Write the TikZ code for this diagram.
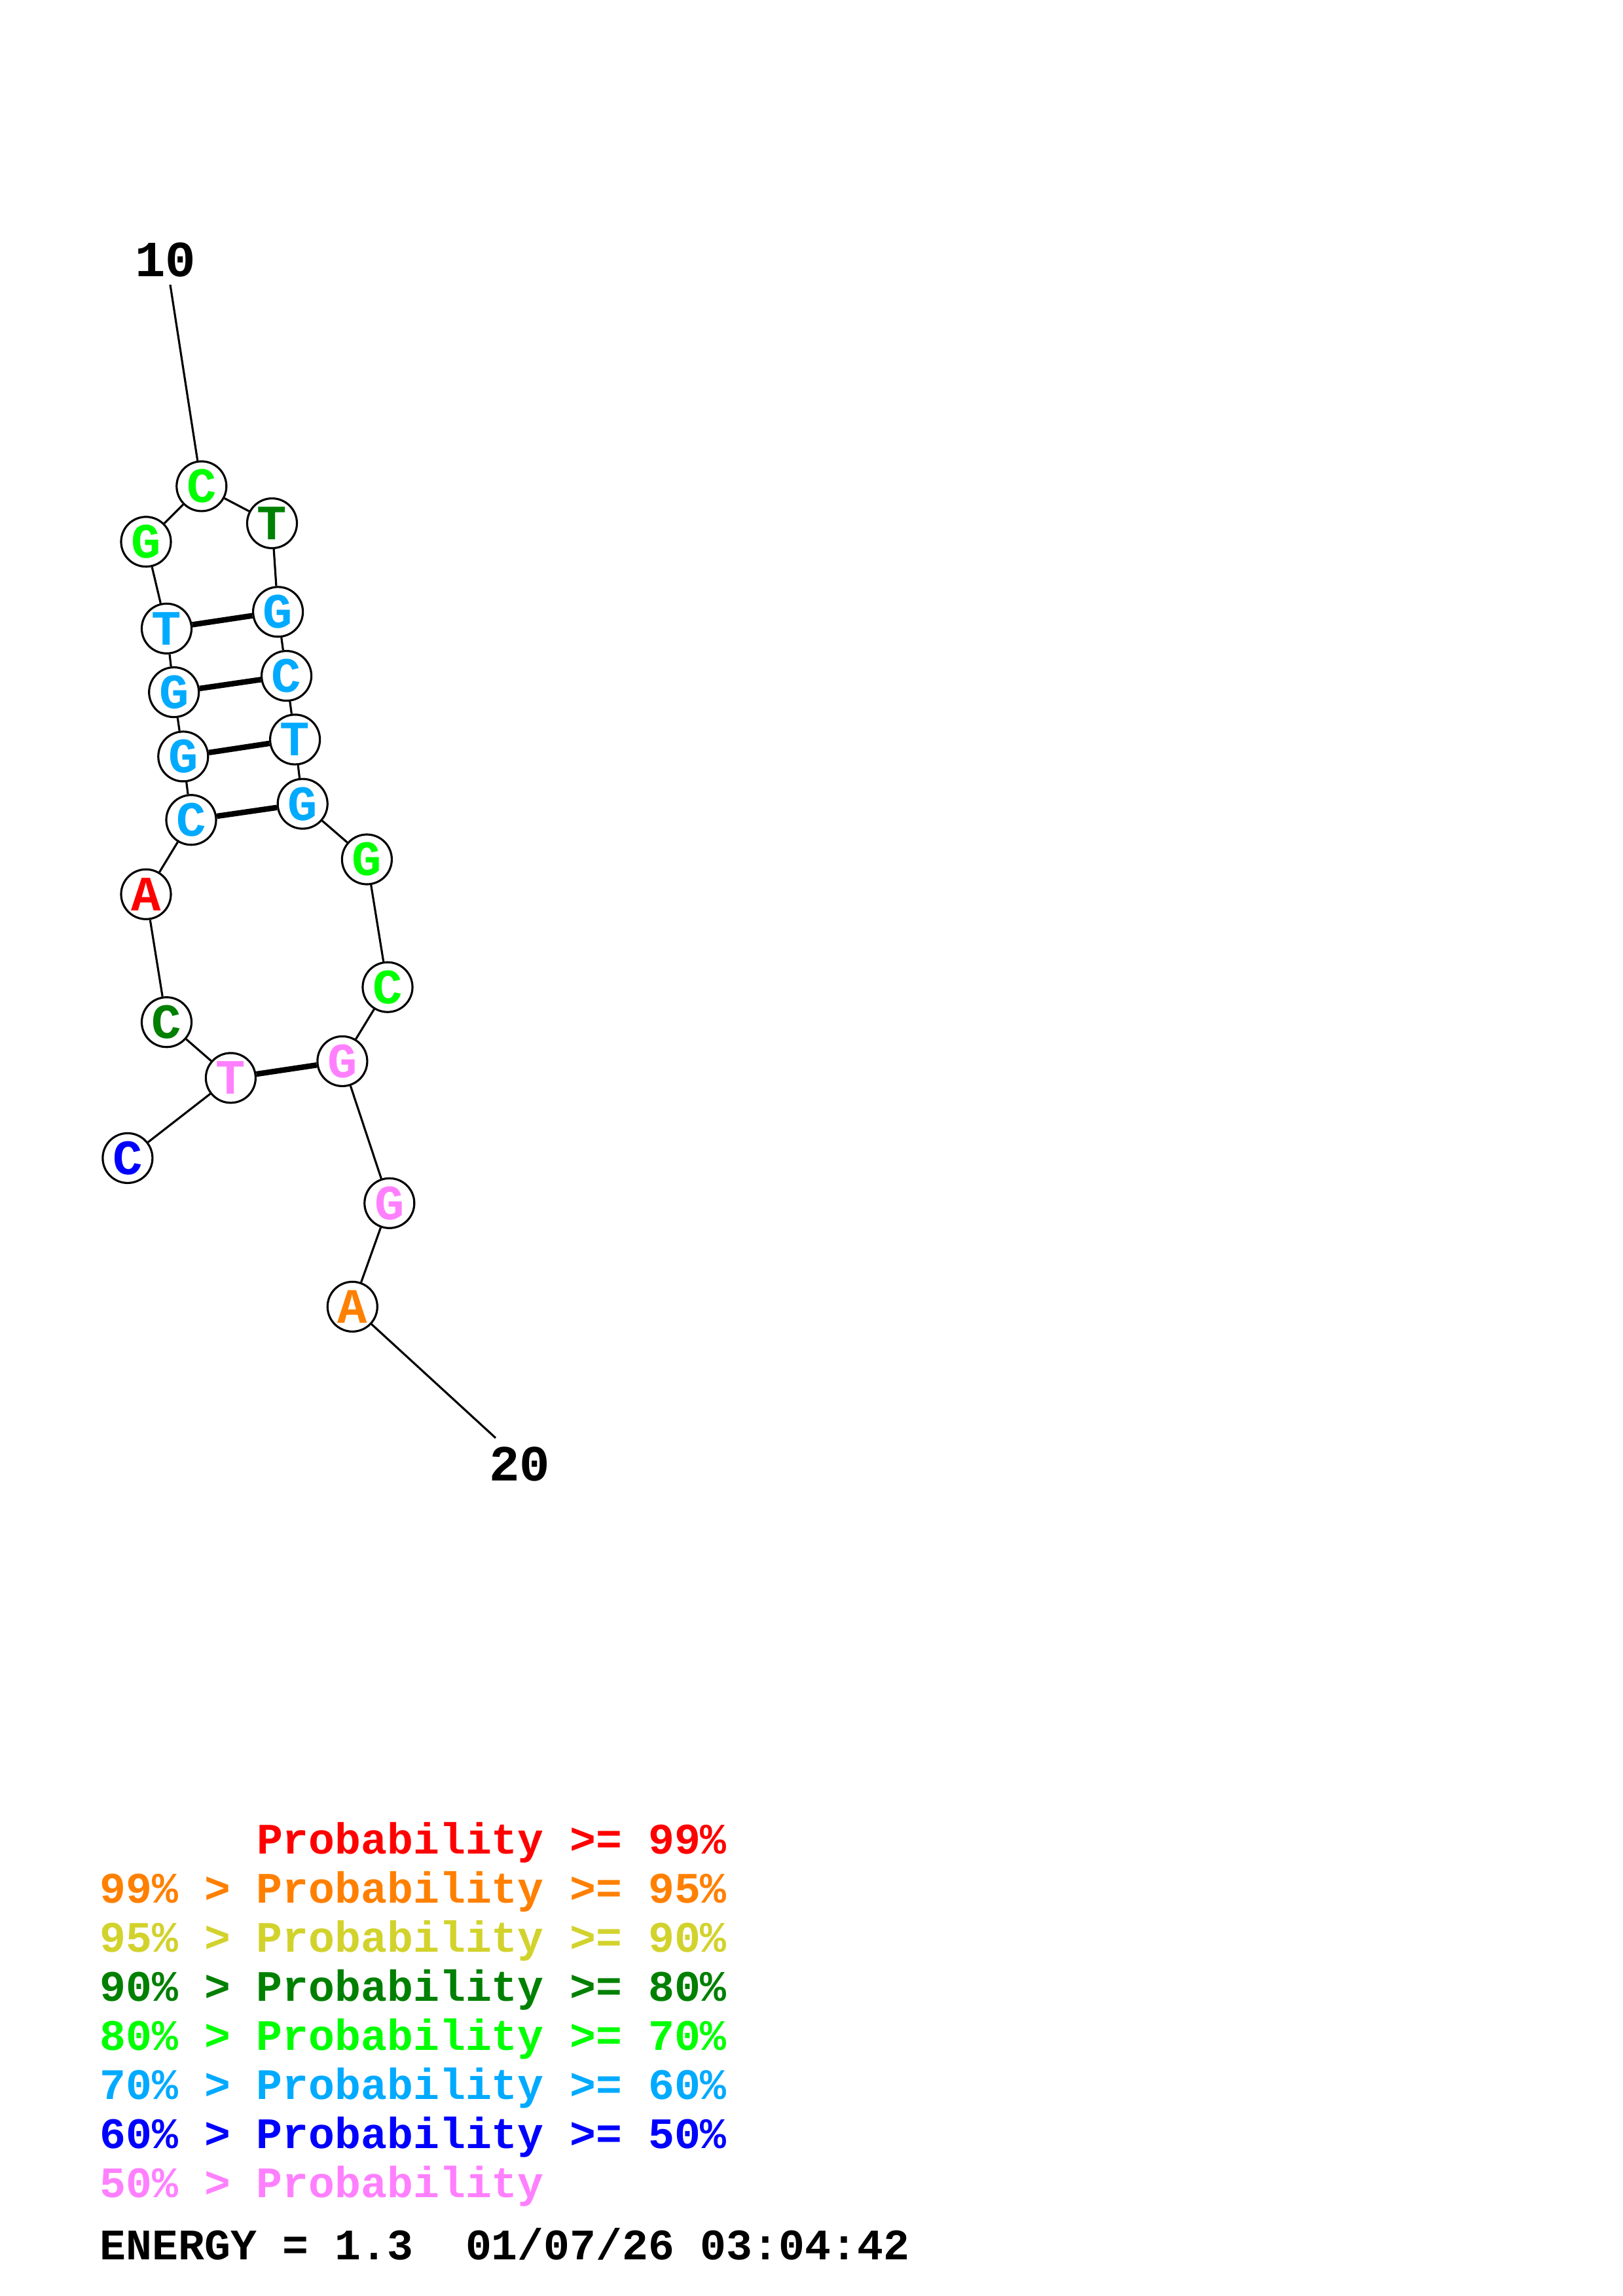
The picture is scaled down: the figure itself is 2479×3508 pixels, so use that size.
\documentclass[tikz,border=0pt]{standalone}
\usepackage{fontspec}
\newfontfamily\cour{Liberation Mono}[BoldFont={Liberation Mono Bold}]
\definecolor{cred}{RGB}{255,0,0}
\definecolor{corange}{RGB}{255,128,0}
\definecolor{cyellow}{RGB}{210,210,45}
\definecolor{cdkgreen}{RGB}{0,128,0}
\definecolor{cgreen}{RGB}{0,255,0}
\definecolor{clblue}{RGB}{0,170,255}
\definecolor{cblue}{RGB}{0,0,255}
\definecolor{cpink}{RGB}{255,128,255}
\begin{document}
\begin{tikzpicture}[x=0.01cm,y=-0.01cm,
  base/.style={circle,draw=black,line width=0.9pt,fill=white,minimum size=0.76cm,inner sep=0pt,
    font=\cour\bfseries\fontsize{21.5}{24}\selectfont},
  bb/.style={line width=0.9pt},
  pair/.style={line width=2.4pt},
  endlab/.style={font=\cour\bfseries\fontsize{22}{26}\selectfont,inner sep=0pt},
  leg/.style={font=\cour\bfseries\fontsize{18.9}{22}\selectfont,inner sep=0pt,anchor=base west}]
\useasboundingbox[fill=white] (0,0) rectangle (2479,3508);
% nucleotides
\node[base,text=cblue]    (n1)  at (194.9,1769.4) {C};
\node[base,text=cpink]    (n2)  at (352.4,1646.9) {T};
\node[base,text=cdkgreen] (n3)  at (254.5,1561.7) {C};
\node[base,text=cred]     (n4)  at (223,1366.3) {A};
\node[base,text=clblue]   (n5)  at (292,1252.7) {C};
\node[base,text=clblue]   (n6)  at (279.8,1155.8) {G};
\node[base,text=clblue]   (n7)  at (265.7,1057.6) {G};
\node[base,text=clblue]   (n8)  at (254.5,960.3) {T};
\node[base,text=cgreen]   (n9)  at (223,827.7) {G};
\node[base,text=cgreen]   (n10) at (307.8,742.9) {C};
\node[base,text=cdkgreen] (n11) at (415.5,799.5) {T};
\node[base,text=clblue]   (n12) at (424.6,934.8) {G};
\node[base,text=clblue]   (n13) at (437.6,1032.6) {C};
\node[base,text=clblue]   (n14) at (450.6,1129.9) {T};
\node[base,text=clblue]   (n15) at (462.2,1228.1) {G};
\node[base,text=cgreen]   (n16) at (560.4,1313) {G};
\node[base,text=cgreen]   (n17) at (592,1508.2) {C};
\node[base,text=cpink]    (n18) at (522.9,1621.4) {G};
\node[base,text=cpink]    (n19) at (594.8,1838.3) {G};
\node[base,text=corange]  (n20) at (538.3,1996.4) {A};
% end labels
\node[endlab,anchor=base] (l10) at (253,422) {10};
\node[endlab,anchor=base] (l20) at (794,2262) {20};
\coordinate (c10) at (260,435);
\coordinate (c20) at (757,2197);
% backbone
\draw[bb] (n1) -- (n2);
\draw[bb] (n2) -- (n3);
\draw[bb] (n3) -- (n4);
\draw[bb] (n4) -- (n5);
\draw[bb] (n5) -- (n6);
\draw[bb] (n6) -- (n7);
\draw[bb] (n7) -- (n8);
\draw[bb] (n8) -- (n9);
\draw[bb] (n9) -- (n10);
\draw[bb] (n10) -- (n11);
\draw[bb] (n11) -- (n12);
\draw[bb] (n12) -- (n13);
\draw[bb] (n13) -- (n14);
\draw[bb] (n14) -- (n15);
\draw[bb] (n15) -- (n16);
\draw[bb] (n16) -- (n17);
\draw[bb] (n17) -- (n18);
\draw[bb] (n18) -- (n19);
\draw[bb] (n19) -- (n20);
\draw[bb] (c10) -- (n10);
\draw[bb] (n20) -- (c20);
% pairs
\draw[pair] (n2) -- (n18);
\draw[pair] (n5) -- (n15);
\draw[pair] (n6) -- (n14);
\draw[pair] (n7) -- (n13);
\draw[pair] (n8) -- (n12);
% legend
\node[leg,text=cred]     (g1) at (152,2832) {\phantom{99\% > }Probability >= 99\%};
\node[leg,text=corange]  (g2) at (152,2907) {99\% > Probability >= 95\%};
\node[leg,text=cyellow]  (g3) at (152,2982) {95\% > Probability >= 90\%};
\node[leg,text=cdkgreen] (g4) at (152,3057) {90\% > Probability >= 80\%};
\node[leg,text=cgreen]   (g5) at (152,3132) {80\% > Probability >= 70\%};
\node[leg,text=clblue]   (g6) at (152,3207) {70\% > Probability >= 60\%};
\node[leg,text=cblue]    (g7) at (152,3282) {60\% > Probability >= 50\%};
\node[leg,text=cpink]    (g8) at (152,3357) {50\% > Probability};
\node[leg,text=black]    (g9) at (152,3452) {ENERGY = 1.3~~01/07/26 03:04:42};
\end{tikzpicture}
\end{document}
